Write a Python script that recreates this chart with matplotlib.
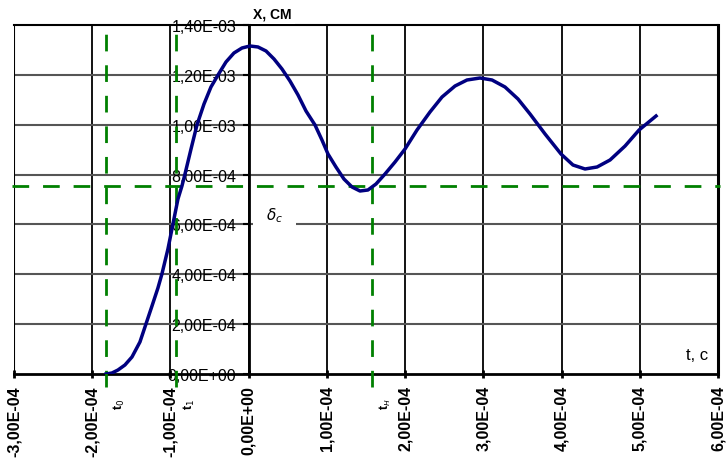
import numpy as np
import matplotlib.pyplot as plt
from matplotlib.ticker import FuncFormatter

plt.rcParams['font.family'] = ['Liberation Sans', 'DejaVu Sans']

# displacement curve x(t) (t in 1e-4 s, x in 1e-4 cm)
t = [-1.824, -1.748, -1.671, -1.582, -1.492, -1.390, -1.313, -1.236, -1.160,
     -1.109, -1.032, -0.968, -0.904, -0.853, -0.814, -0.737, -0.661, -0.571,
     -0.482, -0.392, -0.290, -0.188, -0.085, 0.017, 0.119, 0.222, 0.324, 0.426,
     0.528, 0.631, 0.733, 0.848, 0.937, 1.014, 1.116, 1.218, 1.321, 1.423,
     1.525, 1.628, 1.743, 1.871, 1.999, 2.152, 2.318, 2.472, 2.638, 2.791,
     2.958, 3.111, 3.277, 3.443, 3.597, 3.789, 3.993, 4.146, 4.300, 4.454,
     4.620, 4.812, 4.991, 5.208]
x = [0.0, 0.040, 0.160, 0.361, 0.682, 1.284, 2.006, 2.728, 3.450,
     4.012, 5.014, 6.017, 7.020, 7.542, 8.023, 9.026, 9.989, 10.831,
     11.513, 11.994, 12.516, 12.877, 13.078, 13.158, 13.118, 12.957, 12.636, 12.235,
     11.754, 11.192, 10.550, 9.989, 9.387, 8.825, 8.304, 7.822, 7.502, 7.341,
     7.381, 7.622, 8.023, 8.504, 9.026, 9.788, 10.510, 11.112, 11.553, 11.794,
     11.874, 11.794, 11.513, 11.032, 10.430, 9.628, 8.825, 8.384, 8.224, 8.304,
     8.585, 9.146, 9.788, 10.350]
t = np.array(t) * 1e-4
x = np.array(x) * 1e-4

t_marks = [-1.824e-4, -0.929e-4, 1.577e-4]
t_mark_labels = ['t$_0$', 't$_1$', 't$_н$']
delta_c = 7.54e-4

xticks = np.arange(-3e-4, 6.01e-4, 1e-4)
yticks = np.arange(0, 1.41e-3, 2e-4)


def sci_comma(v, pos=None):
    s = '{:.2E}'.format(v).replace('.', ',')
    if s.startswith('-0,00'):
        s = s[1:]
    return s


fig = plt.figure(figsize=(7.26, 4.64), dpi=100)
ax = fig.add_axes([14 / 726, 89 / 464, 704 / 726, 349 / 464])
ax.set_xlim(-3e-4, 6e-4)
ax.set_ylim(0, 1.4e-3)

# grid
for xv in xticks[1:-1]:
    ax.axvline(xv, color='black', lw=1.3, zorder=1)
for yv in yticks[1:-1]:
    ax.axhline(yv, color='#555555', lw=1.5, zorder=1)

ax.spines['left'].set_position(('data', 0))
ax.spines['left'].set_linewidth(2)
ax.spines['bottom'].set_linewidth(2)
ax.spines['top'].set_linewidth(1.5)
ax.spines['right'].set_linewidth(2.2)
ax.axvline(-3e-4, color='black', lw=1.5, zorder=2)

ax.set_xticks(xticks)
ax.set_yticks(yticks)
ax.xaxis.set_major_formatter(FuncFormatter(sci_comma))
ax.yaxis.set_major_formatter(FuncFormatter(sci_comma))
ax.tick_params(axis='x', direction='inout', length=6, width=2, pad=5,
               labelsize=11.5, labelrotation=90)
for lab in ax.get_xticklabels():
    lab.set_fontweight('bold')
ax.tick_params(axis='y', direction='out', length=4, width=1.5, pad=5,
               labelsize=11.5)

ax.plot(t, x, color='#000080', lw=2.5, zorder=4, solid_joinstyle='round')

for tm, lab in zip(t_marks, t_mark_labels):
    ax.axvline(tm, ymin=-0.037, ymax=1, color='#008000', lw=2,
               dashes=(6, 5), clip_on=False, zorder=3)
    ax.text(tm + 0.08e-4, -0.095e-3, lab, rotation=90, ha='left', va='top',
            fontsize=9, fontweight='bold')
ax.axhline(delta_c, xmin=-0.003, xmax=1.003, color='#008000', lw=2,
           dashes=(6, 5), clip_on=False, zorder=3)

ax.text(0.06e-4, 1.445e-3, 'X, CM', ha='left', va='center', fontsize=10,
        fontweight='bold', bbox=dict(facecolor='white', edgecolor='none', pad=2),
        zorder=5, clip_on=False)
ax.text(0.33e-4, 6.4e-4, r'$\delta_c$', ha='center', va='center', fontsize=11,
        bbox=dict(facecolor='white', edgecolor='none', pad=9), zorder=5)
ax.text(5.88e-4, 0.8e-4, 't, c', ha='right', va='center', fontsize=12)

fig.savefig('out.png', dpi=100)
